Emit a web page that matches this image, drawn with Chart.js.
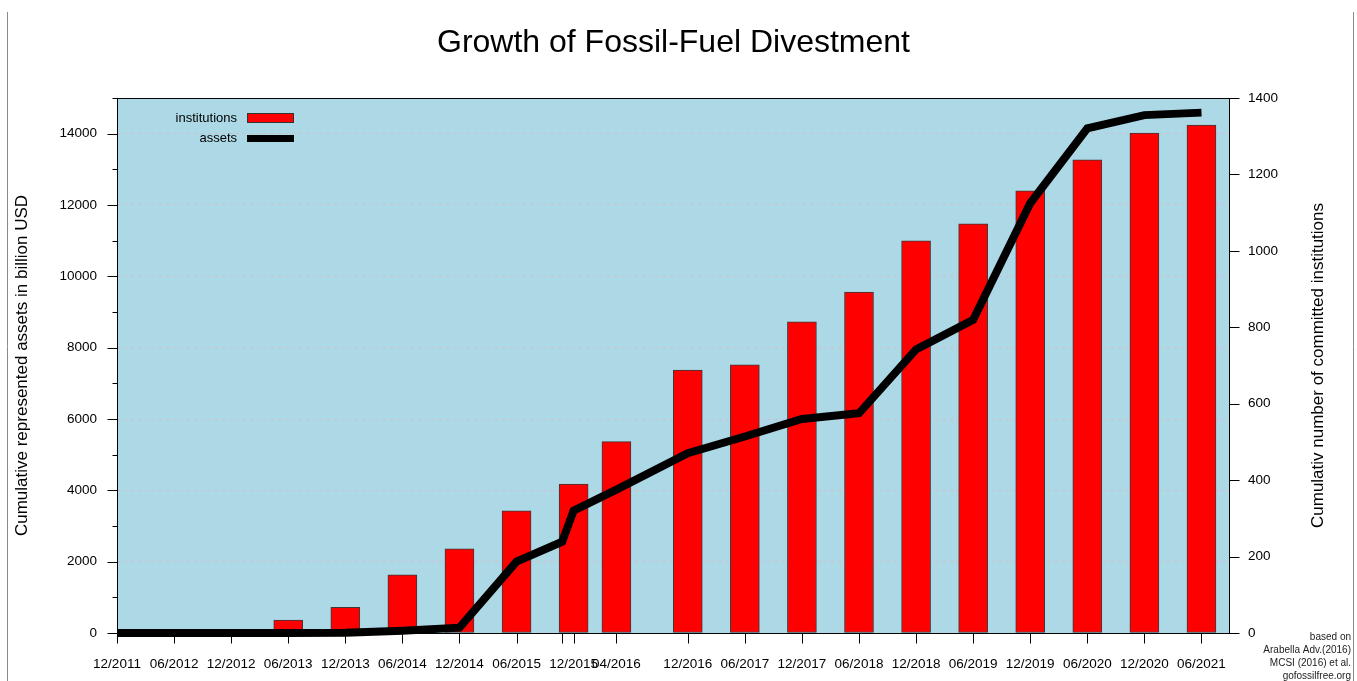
<!DOCTYPE html>
<html>
<head>
<meta charset="utf-8">
<script src="https://cdn.jsdelivr.net/npm/chart.js@4.4.0/dist/chart.umd.min.js"></script>
<style>
  html, body { margin: 0; padding: 0; background: #fff; }
  #wrap { width: 1357px; height: 681px; position: relative; }
</style>
</head>
<body>
<div id="wrap"><canvas id="c" width="1357" height="681"></canvas></div>
<script>
const FONT = "'Liberation Sans', Arial, sans-serif";

// x values are months after 12/2011
const tickMonths = [0, 6, 12, 18, 24, 30, 36, 42, 46.8, 48, 52.5, 60, 66, 72, 78, 84, 90, 96, 102, 108, 114];
const tickLabels = ["12/2011", "06/2012", "12/2012", "06/2013", "12/2013", "06/2014", "12/2014", "06/2015", "",
  "12/2015", "04/2016", "12/2016", "06/2017", "12/2017", "06/2018", "12/2018", "06/2019", "12/2019",
  "06/2020", "12/2020", "06/2021"];

const barMonths = [18, 24, 30, 36, 42, 48, 52.5, 60, 66, 72, 78, 84, 90, 96, 102, 108, 114];
const institutions = [34, 67, 152, 220, 320, 390, 501, 688, 702, 814, 892, 1026, 1071, 1157, 1238, 1308, 1329];

const lineMonths = [0, 6, 12, 18, 24, 30, 36, 42, 46.8, 48, 52.5, 60, 66, 72, 78, 84, 90, 96, 102, 108, 114];
const assets = [0, 0, 0, 0, 5, 60, 150, 2000, 2560, 3430, 4020, 5040, 5510, 6000, 6160, 7950, 8780, 12050, 14150, 14520, 14590];

const footnote = ["based on", "Arabella Adv.(2016)", "MCSI (2016) et al.", "gofossilfree.org"];

Chart.defaults.color = "#000";
Chart.defaults.font.family = FONT;

const decor = {
  id: "decor",
  beforeDraw(chart) {
    const { ctx, chartArea: a } = chart;
    ctx.save();
    ctx.fillStyle = "#add8e6";
    ctx.fillRect(a.left, a.top, a.right - a.left, a.bottom - a.top);
    ctx.restore();
  },
  afterDraw(chart) {
    const { ctx, chartArea: a, scales } = chart;
    ctx.save();

    // page edges
    ctx.strokeStyle = "#8a8a8a";
    ctx.lineWidth = 1;
    ctx.beginPath();
    ctx.moveTo(7.5, 12); ctx.lineTo(7.5, 681);
    ctx.moveTo(1353.5, 12); ctx.lineTo(1353.5, 681);
    ctx.stroke();

    // frame + tick marks
    ctx.strokeStyle = "#000";
    const L = Math.round(a.left) + 0.5, R = Math.round(a.right) - 0.5;
    const T = Math.round(a.top) + 0.5, B = Math.round(a.bottom) + 0.5;
    ctx.strokeRect(L, T, R - L, B - T);
    ctx.beginPath();
    scales.x.ticks.forEach(t => {
      const px = Math.round(scales.x.getPixelForValue(t.value)) + 0.5;
      ctx.moveTo(px, B); ctx.lineTo(px, B + 10);
    });
    scales.y.ticks.forEach(t => {
      const py = Math.round(scales.y.getPixelForValue(t.value)) + 0.5;
      const len = (t.value % 2000 === 0 && t.value < 15000) ? 10 : 5;
      ctx.moveTo(L, py); ctx.lineTo(L - len, py);
    });
    scales.y1.ticks.forEach(t => {
      const py = Math.round(scales.y1.getPixelForValue(t.value)) + 0.5;
      ctx.moveTo(R, py); ctx.lineTo(R + 10, py);
    });
    ctx.stroke();

    // title
    ctx.fillStyle = "#000";
    ctx.textAlign = "center";
    ctx.textBaseline = "alphabetic";
    ctx.font = "32px " + FONT;
    ctx.fillText("Growth of Fossil-Fuel Divestment", (a.left + a.right) / 2, 52);

    // axis titles (both read bottom to top)
    const midY = (a.top + a.bottom) / 2;
    ctx.font = "17px " + FONT;
    ctx.textBaseline = "middle";
    ctx.save();
    ctx.translate(22, midY); ctx.rotate(-Math.PI / 2);
    ctx.fillText("Cumulative represented assets in billion USD", 0, 0);
    ctx.restore();
    ctx.save();
    ctx.translate(1318, midY); ctx.rotate(-Math.PI / 2);
    ctx.fillText("Cumulativ number of committed institutions", 0, 0);
    ctx.restore();

    // legend
    ctx.font = "13px " + FONT;
    ctx.textAlign = "right";
    ctx.fillText("institutions", 237, 118.5);
    ctx.fillText("assets", 237, 138.5);
    ctx.fillStyle = "#ff0000";
    ctx.fillRect(247, 113, 47, 10);
    ctx.strokeStyle = "#333";
    ctx.strokeRect(247.5, 113.5, 46, 9);
    ctx.fillStyle = "#000";
    ctx.fillRect(247, 135, 47, 7);

    // source note
    ctx.font = "10px " + FONT;
    ctx.fillStyle = "#222";
    footnote.forEach((s, i) => ctx.fillText(s, 1351, 637 + i * 13));

    ctx.restore();
  }
};

new Chart(document.getElementById("c"), {
  type: "bar",
  data: {
    datasets: [
      {
        type: "line",
        label: "assets",
        data: lineMonths.map((m, i) => ({ x: m, y: assets[i] })),
        yAxisID: "y",
        borderColor: "#000",
        borderWidth: 8,
        borderJoinStyle: "miter",
        borderCapStyle: "butt",
        pointRadius: 0,
        tension: 0,
        clip: false,
        order: 0,
      },
      {
        type: "bar",
        label: "institutions",
        data: barMonths.map((m, i) => ({ x: m, y: institutions[i] })),
        yAxisID: "y1",
        backgroundColor: "#ff0000",
        borderColor: "#3a3a3a",
        borderWidth: 1,
        borderSkipped: false,
        barThickness: 29,
        order: 1,
      },
    ],
  },
  options: {
    responsive: false,
    animation: false,
    devicePixelRatio: 1,
    layout: { padding: { top: 98, left: 0, right: 0, bottom: 0 } },
    plugins: { legend: { display: false }, tooltip: { enabled: false } },
    scales: {
      x: {
        type: "linear",
        min: 0,
        max: 117,
        offset: false,
        afterFit: s => { s.height = 48; },
        afterBuildTicks: s => { s.ticks = tickMonths.map(v => ({ value: v })); },
        grid: { display: false, drawTicks: false },
        border: { display: false },
        ticks: {
          autoSkip: false,
          maxRotation: 0,
          padding: 23,
          font: { size: 13.5 },
          callback: (v, i) => tickLabels[i],
        },
      },
      y: {
        position: "left",
        min: 0,
        max: 15000,
        afterFit: s => { s.width = 117; },
        grid: {
          drawTicks: false,
          color: c => (c.tick && c.tick.value % 2000 === 0 && c.tick.value > 0 && c.tick.value < 15000)
            ? "rgba(214,186,200,0.85)" : "rgba(0,0,0,0)",
        },
        border: { display: false, dash: [3, 4] },
        ticks: {
          stepSize: 1000,
          padding: 20,
          font: { size: 13.5 },
          callback: v => (v % 2000 === 0 && v < 15000) ? String(v) : "",
        },
      },
      y1: {
        position: "right",
        min: 0,
        max: 1400,
        afterFit: s => { s.width = 127; },
        grid: { drawOnChartArea: false, drawTicks: false },
        border: { display: false },
        ticks: { stepSize: 200, padding: 18, font: { size: 13.5 }, callback: v => String(v) },
      },
    },
  },
  plugins: [decor],
});
</script>
</body>
</html>
